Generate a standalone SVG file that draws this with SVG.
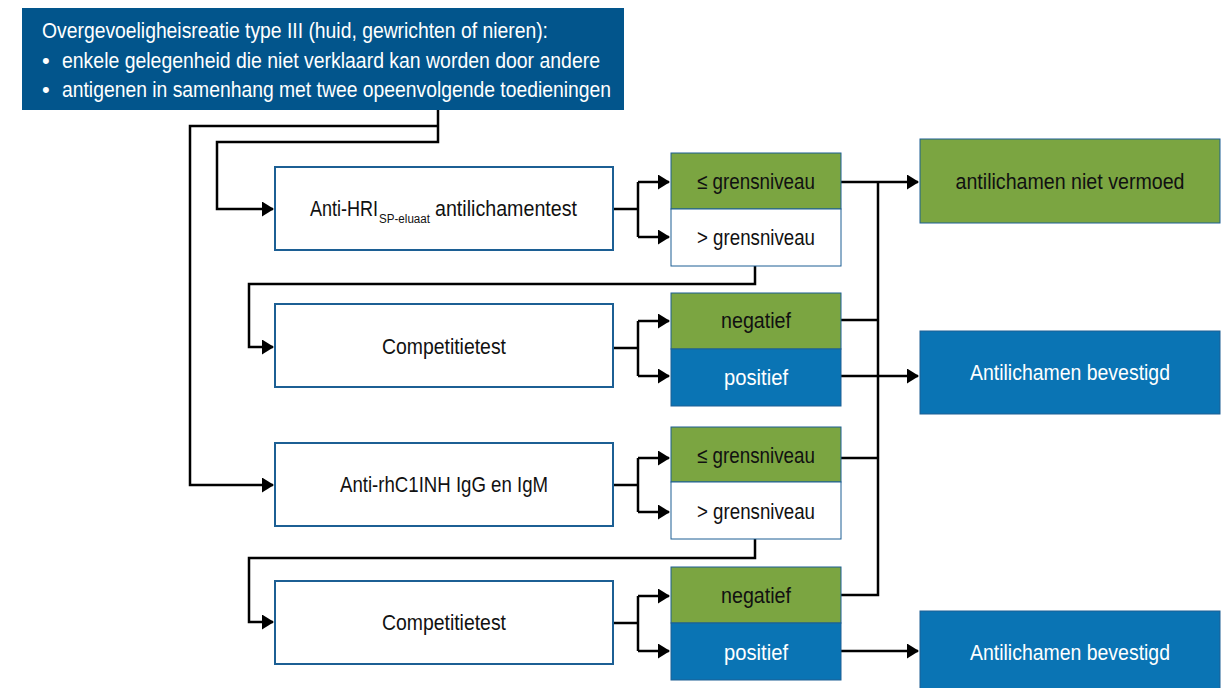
<svg xmlns="http://www.w3.org/2000/svg" width="1230" height="688" viewBox="0 0 1230 688">
<style>
text{font-family:"Liberation Sans",Arial,sans-serif;font-size:22px;fill:#111;}
.w{fill:#fff;}
.c{text-anchor:middle;}
.sub{font-size:12px;}
.box{fill:#fff;stroke:#1c5f94;stroke-width:2;}
.g{fill:#7ba541;stroke:#1c5f94;stroke-width:1;}
.b{fill:#0a74b4;stroke:#1c5f94;stroke-width:1;}
.wb{fill:#fff;stroke:#1c5f94;stroke-width:1;}
.ln{fill:none;stroke:#000;stroke-width:2.5;}
</style>
<defs>
<marker id="ah" markerWidth="12" markerHeight="15" refX="11" refY="7.5" orient="auto" markerUnits="userSpaceOnUse">
<path d="M0,0 L12,7.5 L0,15 Z" fill="#000"/>
</marker>
</defs>

<g id="header">
<rect x="22" y="8" width="602" height="102" fill="#02558c"/>
<text class="w" x="42" y="38" textLength="506" lengthAdjust="spacingAndGlyphs">Overgevoeligheisreatie type III (huid, gewrichten of nieren):</text>
<text class="w" x="42" y="68">•</text>
<text class="w" x="62" y="68" textLength="538" lengthAdjust="spacingAndGlyphs">enkele gelegenheid die niet verklaard kan worden door andere</text>
<text class="w" x="42" y="97">•</text>
<text class="w" x="62" y="97" textLength="549" lengthAdjust="spacingAndGlyphs">antigenen in samenhang met twee opeenvolgende toedieningen</text>
</g>

<g id="connectors">
<path class="ln" d="M438,110 V142 H217 V209 H273" marker-end="url(#ah)"/>
<path class="ln" d="M438,126 H190 V485 H273" marker-end="url(#ah)"/>
<path class="ln" d="M613,209 H638 M638,182 V237"/>
<path class="ln" d="M638,182 H669" marker-end="url(#ah)"/>
<path class="ln" d="M638,237 H669" marker-end="url(#ah)"/>
<path class="ln" d="M755,266 V284 H249 V347 H273" marker-end="url(#ah)"/>
<path class="ln" d="M613,348 H638 M638,321 V376"/>
<path class="ln" d="M638,321 H669" marker-end="url(#ah)"/>
<path class="ln" d="M638,376 H669" marker-end="url(#ah)"/>
<path class="ln" d="M613,485 H638 M638,458 V512"/>
<path class="ln" d="M638,458 H669" marker-end="url(#ah)"/>
<path class="ln" d="M638,512 H669" marker-end="url(#ah)"/>
<path class="ln" d="M755,539 V558 H249 V622 H273" marker-end="url(#ah)"/>
<path class="ln" d="M613,623 H638 M638,596 V651"/>
<path class="ln" d="M638,596 H669" marker-end="url(#ah)"/>
<path class="ln" d="M638,651 H669" marker-end="url(#ah)"/>
<path class="ln" d="M841,182 H918" marker-end="url(#ah)"/>
<path class="ln" d="M878,182 V595 H841 M841,320 H878 M841,458 H878"/>
<path class="ln" d="M841,376 H918" marker-end="url(#ah)"/>
<path class="ln" d="M841,651 H918" marker-end="url(#ah)"/>
</g>

<g id="test1">
<rect class="box" x="275" y="167" width="338" height="83"/>
<text x="310" y="216" textLength="68" lengthAdjust="spacingAndGlyphs">Anti-HRI</text>
<text class="sub" x="379" y="223" textLength="51" lengthAdjust="spacingAndGlyphs">SP-eluaat</text>
<text x="435" y="216" textLength="142" lengthAdjust="spacingAndGlyphs">antilichamentest</text>
</g>
<g id="dec1">
<rect class="g" x="671" y="153" width="170" height="56"/>
<rect class="wb" x="671" y="209" width="170" height="57"/>
<text class="c" x="756" y="189" textLength="118" lengthAdjust="spacingAndGlyphs">≤ grensniveau</text>
<text class="c" x="756" y="245" textLength="118" lengthAdjust="spacingAndGlyphs">&gt; grensniveau</text>
</g>

<g id="test2">
<rect class="box" x="275" y="304" width="338" height="83"/>
<text class="c" x="444" y="354" textLength="124" lengthAdjust="spacingAndGlyphs">Competitietest</text>
</g>
<g id="dec2">
<rect class="g" x="671" y="293" width="170" height="56"/>
<rect class="b" x="671" y="349" width="170" height="57"/>
<text class="c" x="756" y="328" textLength="70" lengthAdjust="spacingAndGlyphs">negatief</text>
<text class="c w" x="756" y="385" textLength="64" lengthAdjust="spacingAndGlyphs">positief</text>
</g>

<g id="test3">
<rect class="box" x="275" y="443" width="338" height="83"/>
<text class="c" x="444" y="492" textLength="208" lengthAdjust="spacingAndGlyphs">Anti-rhC1INH IgG en IgM</text>
</g>
<g id="dec3">
<rect class="g" x="671" y="427" width="170" height="55"/>
<rect class="wb" x="671" y="482" width="170" height="57"/>
<text class="c" x="756" y="463" textLength="118" lengthAdjust="spacingAndGlyphs">≤ grensniveau</text>
<text class="c" x="756" y="519" textLength="118" lengthAdjust="spacingAndGlyphs">&gt; grensniveau</text>
</g>

<g id="test4">
<rect class="box" x="275" y="581" width="338" height="83"/>
<text class="c" x="444" y="630" textLength="124" lengthAdjust="spacingAndGlyphs">Competitietest</text>
</g>
<g id="dec4">
<rect class="g" x="671" y="567" width="170" height="56"/>
<rect class="b" x="671" y="623" width="170" height="57"/>
<text class="c" x="756" y="603" textLength="70" lengthAdjust="spacingAndGlyphs">negatief</text>
<text class="c w" x="756" y="660" textLength="64" lengthAdjust="spacingAndGlyphs">positief</text>
</g>

<g id="out1">
<rect class="g" x="920" y="139" width="300" height="84"/>
<text class="c" x="1070" y="189" textLength="229" lengthAdjust="spacingAndGlyphs">antilichamen niet vermoed</text>
</g>
<g id="out2">
<rect class="b" x="920" y="331" width="300" height="83"/>
<text class="c w" x="1070" y="380" textLength="200" lengthAdjust="spacingAndGlyphs">Antilichamen bevestigd</text>
</g>
<g id="out3">
<rect class="b" x="920" y="611" width="300" height="83"/>
<text class="c w" x="1070" y="660" textLength="200" lengthAdjust="spacingAndGlyphs">Antilichamen bevestigd</text>
</g>
</svg>
